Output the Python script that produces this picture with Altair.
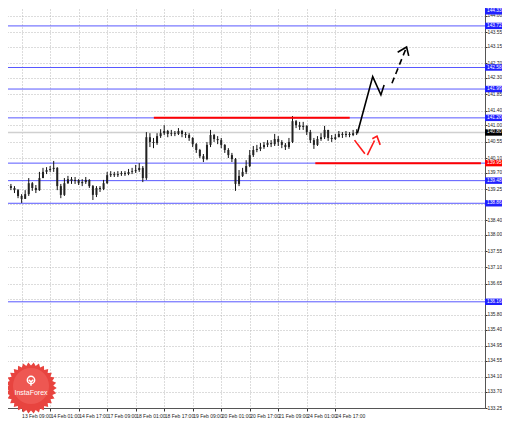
import altair as alt
import pandas as pd
import numpy as np

# ---------------- data ----------------
close = [139.33, 139.28, 139.22, 139.06, 138.98, 139.11, 139.41, 139.28, 139.22, 139.55,
         139.72, 139.77, 139.80, 139.83, 139.33, 139.09, 139.41, 139.52, 139.47, 139.50,
         139.41, 139.44, 139.50, 139.33, 139.09, 139.28, 139.25, 139.41, 139.63, 139.66,
         139.63, 139.66, 139.69, 139.66, 139.72, 139.74, 139.77, 139.83, 139.55, 140.67,
         140.54, 140.51, 140.70, 140.78, 140.84, 140.76, 140.78, 140.76, 140.84, 140.76,
         140.73, 140.65, 140.48, 140.32, 140.15, 140.07, 140.46, 140.73, 140.62, 140.59,
         140.46, 140.32, 140.18, 140.07, 139.39, 139.61, 139.72, 139.88, 140.18, 140.32,
         140.35, 140.40, 140.46, 140.51, 140.48, 140.62, 140.54, 140.46, 140.40, 140.54,
         141.11, 141.00, 140.95, 140.98, 140.81, 140.59, 140.46, 140.62, 140.67, 140.87,
         140.65, 140.62, 140.67, 140.76, 140.73, 140.76, 140.73, 140.78, 140.81]
high = [139.41, 139.39, 139.33, 139.25, 139.11, 139.22, 139.55, 139.44, 139.36, 139.72,
        139.83, 139.85, 139.88, 140.02, 139.85, 139.39, 139.55, 139.61, 139.58, 139.58,
        139.52, 139.52, 139.58, 139.52, 139.36, 139.33, 139.33, 139.50, 139.72, 139.74,
        139.72, 139.74, 139.74, 139.74, 139.80, 139.83, 139.91, 139.96, 139.88, 140.81,
        140.78, 140.65, 140.78, 140.89, 141.00, 140.87, 140.87, 140.84, 140.92, 140.87,
        140.81, 140.78, 140.67, 140.51, 140.35, 140.21, 140.54, 140.87, 140.76, 140.70,
        140.65, 140.48, 140.37, 140.24, 140.10, 139.77, 139.83, 140.04, 140.32, 140.43,
        140.46, 140.51, 140.54, 140.59, 140.59, 140.76, 140.70, 140.59, 140.51, 140.65,
        141.25, 141.14, 141.09, 141.09, 141.00, 140.87, 140.65, 140.70, 140.78, 140.98,
        140.87, 140.73, 140.76, 140.84, 140.81, 140.84, 140.81, 140.87, 140.89]
low = [139.25, 139.22, 139.14, 139.00, 138.87, 138.98, 139.06, 139.20, 139.14, 139.20,
       139.55, 139.66, 139.72, 139.72, 139.22, 139.00, 139.06, 139.39, 139.39, 139.39,
       139.36, 139.33, 139.39, 139.28, 138.95, 139.03, 139.17, 139.22, 139.39, 139.58,
       139.58, 139.58, 139.61, 139.61, 139.63, 139.66, 139.69, 139.72, 139.44, 139.50,
       140.40, 140.37, 140.46, 140.65, 140.73, 140.67, 140.70, 140.70, 140.73, 140.67,
       140.65, 140.57, 140.40, 140.24, 140.10, 139.99, 140.04, 140.40, 140.54, 140.48,
       140.37, 140.24, 140.10, 139.99, 139.20, 139.33, 139.58, 139.66, 139.85, 140.13,
       140.26, 140.29, 140.35, 140.40, 140.40, 140.43, 140.43, 140.37, 140.32, 140.35,
       140.51, 140.92, 140.87, 140.87, 140.73, 140.51, 140.35, 140.43, 140.57, 140.62,
       140.57, 140.54, 140.59, 140.67, 140.65, 140.67, 140.67, 140.70, 140.73]
first_open = 139.36

x_tick_idx = [4, 12, 20, 28, 36, 44, 52, 60, 68, 76, 84, 92]
x_tick_txt = ["13 Feb 09:00", "14 Feb 01:00", "14 Feb 17:00", "17 Feb 09:00",
              "18 Feb 01:00", "18 Feb 17:00", "19 Feb 09:00", "20 Feb 01:00",
              "20 Feb 17:00", "21 Feb 09:00", "24 Feb 01:00", "24 Feb 17:00"]
y_ticks = [133.25, 133.70, 134.10, 134.55, 134.95, 135.40, 135.80, 136.25, 136.65,
           137.10, 137.55, 138.00, 138.40, 138.85, 139.25, 139.70, 140.10, 140.55,
           141.00, 141.40, 141.85, 142.30, 142.70, 143.15, 143.55, 144.00]
hidden_ticks = [138.85, 136.25]   # covered by level labels in the reference

blue_levels = [143.72, 142.58, 141.99, 141.20, 139.96, 139.48, 138.86, 136.16]
blue_labels = [143.72, 142.58, 141.99, 141.20, 139.48, 138.86, 136.16]
top_label_text = "144.33"
top_label_pos = 144.12
red_level_price = [141.20, 139.96]
red_level_from = [41.1, 86.4]
red_level_to = [96.05, 132.85]
bid_price = 140.80

# forecast sketches (bar index, price)
black_solid_i = [98.2, 102.5, 104.8, 105.7]
black_solid_p = [140.78, 142.33, 141.83, 142.10]
black_dash_i = [107.9, 112.0]
black_dash_p = [142.15, 143.14]
black_head_i = [109.5, 112.0, 112.6]
black_head_p = [143.00, 143.14, 142.90]
red_solid_i = [97.4, 100.3]
red_solid_p = [140.59, 140.22]
red_dash_i = [101.0, 103.0]
red_dash_p = [140.18, 140.58]
red_head_i = [102.4, 103.7, 104.6]
red_head_p = [140.63, 140.70, 140.46]

# ---------------- frames ----------------
opens = [first_open] + close[:-1]
candles = pd.DataFrame({"i": list(range(len(close))), "open": opens,
                        "high": high, "low": low, "close": close})

W, H = 485, 408
XDOM = [-0.66, 132.6]
YDOM = [133.25, 144.43]
xscale = alt.Scale(domain=XDOM, nice=False, zero=False)
yscale = alt.Scale(domain=YDOM, nice=False, zero=False)
label_expr = "[" + ",".join("'" + t + "'" for t in x_tick_txt) + "][(datum.value - 4) / 8]"
hide_cond = " || ".join(f"abs(datum.value - {h}) < 0.001" for h in hidden_ticks)
ylabel_expr = f"({hide_cond}) ? '' : format(datum.value, '.2f')"
xaxis = alt.Axis(values=x_tick_idx, labelExpr=label_expr, title=None, grid=True,
                 gridDash=[1, 2], gridColor="#b8b8b8", gridWidth=1,
                 labelAlign="left", labelFontSize=5, labelFont="Liberation Sans",
                 labelColor="#222", labelPadding=2, tickSize=3, tickColor="#333",
                 domainColor="#555", labelOverlap=False, labelFlush=False, labelBound=False)
yaxis = alt.Axis(values=y_ticks, labelExpr=ylabel_expr, orient="right", title=None,
                 grid=True, gridDash=[1, 2], gridColor="#b8b8b8", gridWidth=1,
                 labelFontSize=4.8, labelFont="Liberation Sans", labelColor="#222",
                 labelPadding=0, tickSize=2, tickColor="#333", domainColor="#555",
                 labelOverlap=False, labelFlush=False, labelBound=False)


def X(f):
    return alt.X(f + ":Q", scale=xscale, axis=xaxis)


def Y(f):
    return alt.Y(f + ":Q", scale=yscale, axis=yaxis)


wicks = alt.Chart(candles).mark_rule(color="#111", strokeWidth=1).encode(
    x=X("i"), y=Y("low"), y2="high")
bodies = alt.Chart(candles).mark_bar(size=2, color="#222").encode(
    x=X("i"), y=Y("open"), y2="close")

blue = alt.Chart(pd.DataFrame({"p": blue_levels})).mark_rule(
    color="#5858ff", strokeWidth=1).encode(y=Y("p"))
bid = alt.Chart(pd.DataFrame({"p": [bid_price]})).mark_rule(
    color="#d0d0d0", strokeWidth=1.5).encode(y=Y("p"))
red = alt.Chart(pd.DataFrame({"p": red_level_price, "a": red_level_from,
                              "b": red_level_to})).mark_rule(
    color="#ff0000", strokeWidth=2).encode(x=X("a"), x2="b", y=Y("p"))


def path(i_list, p_list, color, width, dash=None):
    df = pd.DataFrame({"i": i_list, "p": p_list, "o": list(range(len(i_list)))})
    kw = dict(color=color, strokeWidth=width)
    if dash:
        kw["strokeDash"] = dash
    return alt.Chart(df).mark_line(**kw).encode(x=X("i"), y=Y("p"), order="o:Q")


fc = [path(black_solid_i, black_solid_p, "#000", 1.6),
      path(black_dash_i, black_dash_p, "#000", 1.6, [6, 4]),
      path(black_head_i, black_head_p, "#000", 1.6),
      path(red_solid_i, red_solid_p, "#ff1a1a", 1.6),
      path(red_dash_i, red_dash_p, "#ff1a1a", 1.6),
      path(red_head_i, red_head_p, "#ff1a1a", 1.6)]

box_p = [top_label_pos] + blue_labels + [red_level_price[1], bid_price]
box_t = [top_label_text] + [f"{v:.2f}" for v in blue_labels] + \
    ["139.95", f"{bid_price:.2f}"]
box_c = ["#2020ff"] * (len(blue_labels) + 1) + ["#ff0000", "#000000"]
boxes_df = pd.DataFrame({"p": box_p, "c": box_c, "t": box_t})
boxes_df["lo"] = boxes_df["p"] - 0.088
boxes_df["hi"] = boxes_df["p"] + 0.088
boxes = alt.Chart(boxes_df).mark_rect().encode(
    x=alt.value(W), x2=alt.value(502), y=Y("lo"), y2="hi",
    color=alt.Color("c:N", scale=None))
box_txt = alt.Chart(boxes_df).mark_text(
    align="left", baseline="middle", fontSize=4.8, font="Liberation Sans",
    color="white").encode(x=alt.value(W + 2), y=Y("p"), text="t:N")

# InstaForex badge
n = 30
pts = []
for k in range(2 * n):
    r = 1.0 if k % 2 == 0 else 0.87
    a = np.pi * k / n
    pts.append(f"{r * np.cos(a):.3f},{r * np.sin(a):.3f}")
star = "M" + " L".join(pts) + " Z"
one = pd.DataFrame({"k": [0]})
badge = alt.Chart(one).mark_point(shape=star, size=2650, filled=True,
                                  color="#e8443f", opacity=1).encode(
    x=alt.value(31), y=alt.value(388))
badge_in = alt.Chart(one).mark_circle(size=1300, color="#ee5752", opacity=1).encode(
    x=alt.value(31), y=alt.value(386))
icon_ring = alt.Chart(one).mark_point(shape="circle", size=55, filled=False,
                                      color="white", strokeWidth=1.4, opacity=1).encode(
    x=alt.value(31), y=alt.value(380))
icon_stem = alt.Chart(one).mark_point(
    shape="M0,-0.4 L0,1 M-0.6,-0.6 L0,0 L0.6,-0.6", size=60, filled=False,
    color="white", strokeWidth=1.4, opacity=1).encode(
    x=alt.value(31), y=alt.value(382))
badge_txt = alt.Chart(one).mark_text(text="InstaForex", fontSize=7, font="Liberation Sans",
                                     color="white", align="center", baseline="middle").encode(
    x=alt.value(31), y=alt.value(393))

chart = alt.layer(
    bid, blue, wicks, bodies, red, *fc, boxes, box_txt,
    badge, badge_in, icon_ring, icon_stem, badge_txt
).properties(
    width=W, height=H,
    padding={"left": -8, "top": -8, "right": 17, "bottom": 12},
    autosize=alt.AutoSizeParams(type="none"),
    background="white",
).configure_view(stroke=None)

chart.save("out.html", embed_options={"renderer": "svg", "actions": False})
